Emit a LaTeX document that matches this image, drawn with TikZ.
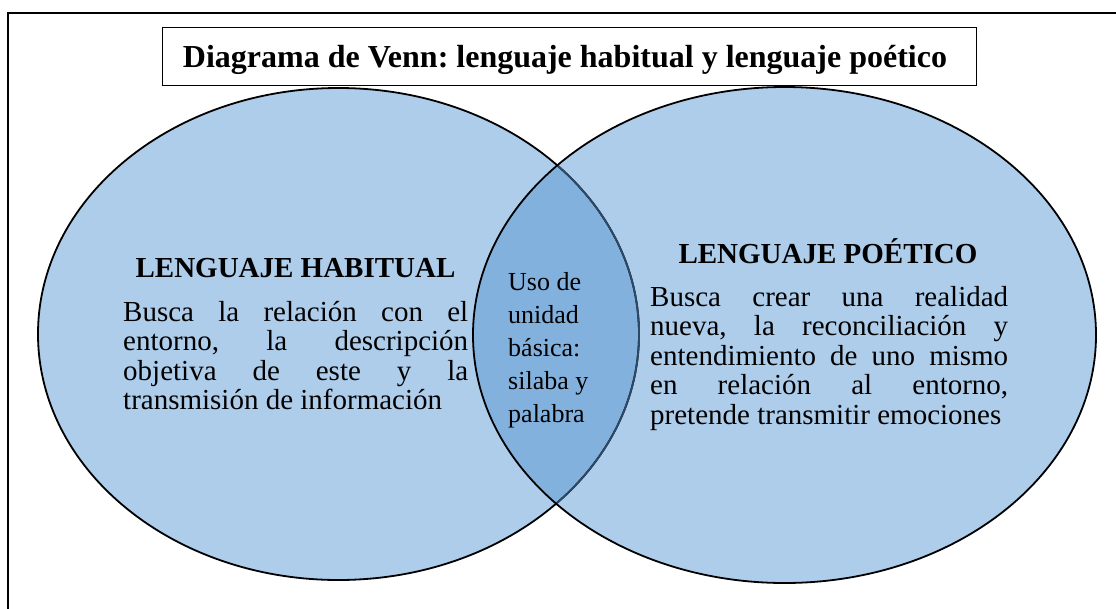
\documentclass[tikz,border=0pt]{standalone}
\usepackage{fontspec}
\setmainfont{Liberation Serif}
\frenchspacing
\definecolor{vlight}{RGB}{174,205,234}
\definecolor{vlens}{RGB}{131,177,222}
\definecolor{vslate}{RGB}{44,74,104}
\tikzset{
  sidefont/.style={font=\fontsize{29}{30}\selectfont},
  headfont/.style={font=\fontsize{29}{30}\selectfont\bfseries},
  midfont/.style={font=\fontsize{26}{27}\selectfont},
  lineL/.style={anchor=base west, inner sep=0pt, sidefont},
  lineM/.style={anchor=base west, inner sep=0pt, midfont},
  headtxt/.style={anchor=base, inner sep=0pt, headfont},
}
\newcommand{\jl}[2]{\makebox[#1][s]{#2}}
\begin{document}
\begin{tikzpicture}[x=1pt,y=-1pt]
\useasboundingbox (0,0) rectangle (1116,608);
\fill[white] (0,0) rectangle (1116,608);
% outer frame (runs off the right and bottom edges)
\draw[line width=2pt] (1140,13.3) -- (7.6,13.3) -- (7.6,630);
% ellipses
\def\EL{(338.5,334) ellipse [x radius=300.5pt, y radius=246pt]}
\def\ER{(784.5,335) ellipse [x radius=311.5pt, y radius=248pt]}
\fill[vlight] \EL;
\fill[vlight] \ER;
\begin{scope}
  \clip \EL;
  \fill[vlens] \ER;
\end{scope}
\draw[line width=1.8pt] \EL;
\begin{scope}
  \clip \ER;
  \draw[line width=1.8pt, vslate] \EL;
\end{scope}
\draw[line width=1.8pt] \ER;
% title
\node[draw, line width=0.9pt, fill=white, minimum width=813.7pt, minimum height=58pt, inner sep=0pt] (titlebox) at (569.2,56.3) {};
\node[anchor=base, inner sep=0pt, font=\fontsize{32}{34}\selectfont\bfseries] (title) at (565,67.7) {Diagrama de Venn: lenguaje habitual y lenguaje poético};
% left set
\node[headtxt] (hL) at (295.5,277) {LENGUAJE HABITUAL};
\node[lineL] (l1) at (123,321) {\jl{345pt}{Busca la relación con el}};
\node[lineL] (l2) at (123,350.5) {\jl{345pt}{entorno, la descripción}};
\node[lineL] (l3) at (123,380) {\jl{345pt}{objetiva de este y la}};
\node[lineL] (l4) at (123,409.5) {transmisión de información};
% right set
\node[headtxt] (hR) at (828,263) {LENGUAJE POÉTICO};
\node[lineL] (r1) at (650,306) {\jl{358pt}{Busca crear una realidad}};
\node[lineL] (r2) at (650,335.5) {\jl{358pt}{nueva, la reconciliación y}};
\node[lineL] (r3) at (650,365) {\jl{358pt}{entendimiento de uno mismo}};
\node[lineL] (r4) at (650,394.5) {\jl{358pt}{en relación al entorno,}};
\node[lineL] (r5) at (650,424) {pretende transmitir emociones};
% intersection
\node[lineM] (m1) at (508,290.5) {Uso de};
\node[lineM] (m2) at (508,323.5) {unidad};
\node[lineM] (m3) at (508,356.5) {básica:};
\node[lineM] (m4) at (508,389.5) {silaba y};
\node[lineM] (m5) at (508,422.5) {palabra};
\end{tikzpicture}
\end{document}
